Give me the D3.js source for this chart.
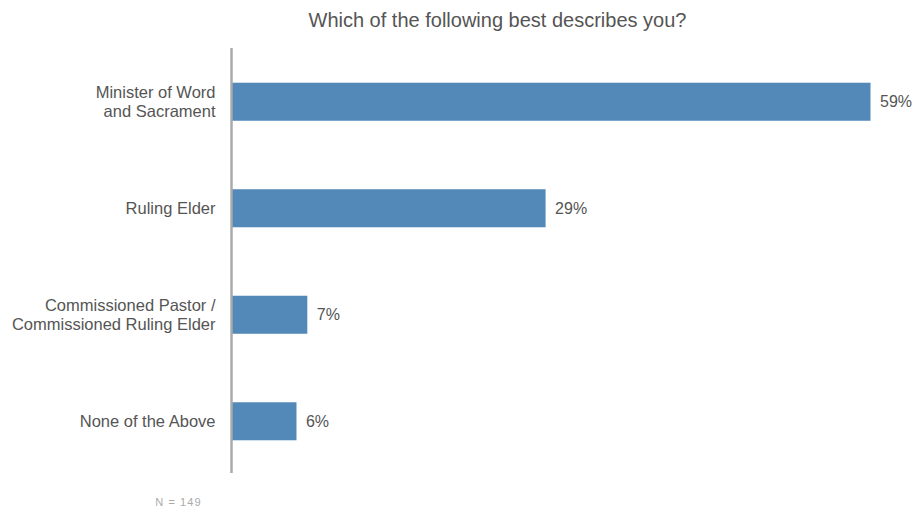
<!DOCTYPE html>
<html>
<head>
<meta charset="utf-8">
<script src="https://cdn.jsdelivr.net/npm/d3@7"></script>
<style>
  html, body { margin: 0; padding: 0; background: #fff; }
  svg { display: block; }
  text { font-family: "Liberation Sans", Arial, sans-serif; }
</style>
</head>
<body>
<svg id="chart" width="914" height="509"></svg>
<script>
// Survey responses: role of respondent
const categories = [
  ["Minister of Word", "and Sacrament"],
  ["Ruling Elder"],
  ["Commissioned Pastor /", "Commissioned Ruling Elder"],
  ["None of the Above"]
];
const values = [59, 29, 7, 6];
const valueLabels = ["59%", "29%", "7%", "6%"];
const titleText = "Which of the following best describes you?";
const noteText = "N = 149";

const svg = d3.select("#chart");
const axisX = 231.5;
const plotTop = 48, plotBottom = 473;

const x = d3.scaleLinear().domain([0, 59]).range([axisX, 870.5]);
const y = d3.scaleBand()
  .domain(d3.range(categories.length))
  .range([48, 475])
  .paddingInner(0.643)
  .paddingOuter(0.326);

svg.append("text")
  .attr("x", 497.5).attr("y", 27)
  .attr("text-anchor", "middle")
  .attr("font-size", 20)
  .attr("fill", "#555")
  .text(titleText);

svg.selectAll("rect.bar")
  .data(values)
  .join("rect")
  .attr("class", "bar")
  .attr("x", axisX)
  .attr("y", (d, i) => y(i))
  .attr("width", d => x(d) - axisX)
  .attr("height", y.bandwidth())
  .attr("fill", "#5289b8");

// Category axis drawn by d3, with ticks hidden and multi-line labels
const yAxis = d3.axisLeft(y).tickSize(0).tickPadding(16).tickFormat("");
const g = svg.append("g").attr("transform", `translate(${axisX},0)`).call(yAxis);
g.select(".domain").attr("d", `M0,${plotTop}V${plotBottom}`).attr("stroke", "#aaa").attr("stroke-width", 2.5);
g.selectAll(".tick").each(function(d) {
  const lines = categories[d];
  const t = d3.select(this).append("text")
    .attr("x", -16)
    .attr("text-anchor", "end")
    .attr("fill", "#555")
    .attr("font-size", 16.5);
  const lh = 18.5;
  lines.forEach((s, k) => {
    t.append("tspan")
      .attr("x", -16)
      .attr("y", (k - (lines.length - 1) / 2) * lh)
      .attr("dy", "0.35em")
      .text(s);
  });
});

svg.selectAll("text.val")
  .data(values)
  .join("text")
  .attr("class", "val")
  .attr("x", d => x(d) + 9.5)
  .attr("y", (d, i) => y(i) + y.bandwidth() / 2)
  .attr("dy", "0.35em")
  .attr("font-size", 16)
  .attr("fill", "#555")
  .text((d, i) => valueLabels[i]);

svg.append("text")
  .attr("x", 178.5).attr("y", 505.5)
  .attr("text-anchor", "middle")
  .attr("font-size", 11)
  .attr("letter-spacing", 1.1)
  .attr("fill", "#aaa")
  .text(noteText);
</script>
</body>
</html>
